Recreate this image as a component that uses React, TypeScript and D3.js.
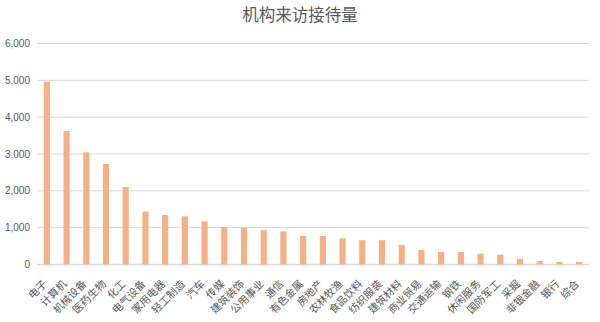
import React from "react";
import * as d3 from "d3";

const categories = ["电子","计算机","机械设备","医药生物","化工","电气设备","家用电器","轻工制造","汽车","传媒","建筑装饰","公用事业","通信","有色金属","房地产","农林牧渔","食品饮料","纺织服装","建筑材料","商业贸易","交通运输","钢铁","休闲服务","国防军工","采掘","非银金融","银行","综合"];
const values = [4960,3625,3046,2729,2104,1434,1344,1308,1172,1018,1000,928,900,774,774,711,660,660,535,394,340,340,294,267,150,95,68,68];
const yTicks = [0,1000,2000,3000,4000,5000,6000];
const title = "机构来访接待量";

const W = 600, H = 322;
const left = 37, right = 589, top = 43.5, bottom = 264.5;
const cjk = "'Noto Sans CJK SC', 'Noto Sans', sans-serif";

export default function App() {
  const x = d3.scaleBand<string>().domain(categories).range([left, right]).paddingInner(0.69).paddingOuter(0.345);
  const y = d3.scaleLinear().domain([0, 6000]).range([bottom, top]);
  const fmt = d3.format(",");
  return (
    <svg width={W} height={H} style={{ position: "absolute", left: 0, top: 0, background: "#fff" }}>
      <text x={300} y={21} textAnchor="middle" fontFamily={cjk} fontSize={16.5} fill="#595959">{title}</text>
      {yTicks.map((t) => (
        <g key={t}>
          <line x1={left} x2={right} y1={y(t)} y2={y(t)} stroke="#d9d9d9" strokeWidth={t === 0 ? 1.3 : 1} />
          <text x={30} y={y(t)} dy="0.35em" textAnchor="end" fontFamily="'Liberation Sans', Arial, sans-serif" fontSize={10} fill="#595959">{fmt(t)}</text>
        </g>
      ))}
      {categories.map((c, i) => (
        <rect key={c} x={x(c)} y={y(values[i])} width={x.bandwidth()} height={y(0) - y(values[i])} fill="#F4B183" />
      ))}
      {categories.map((c) => {
        const cx = (x(c) as number) + x.bandwidth() / 2;
        return (
          <text key={c} transform={`translate(${cx - 1.8},${282}) rotate(-45)`} dy="0.35em" textAnchor="end" fontFamily={cjk} fontSize={10.5} fill="#595959">{c}</text>
        );
      })}
    </svg>
  );
}
